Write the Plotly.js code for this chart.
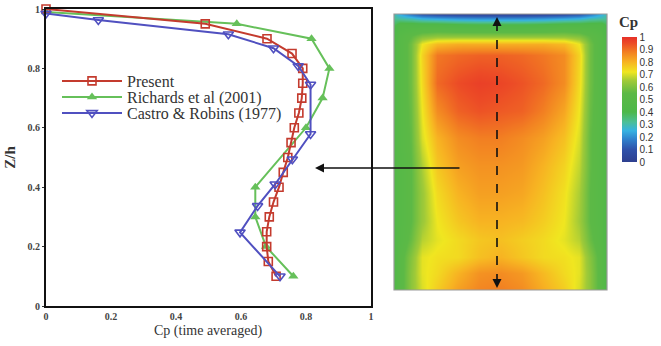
<!DOCTYPE html>
<html>
<head>
<meta charset="utf-8">
<script src="https://cdn.plot.ly/plotly-3.0.1.min.js"></script>
<style>html,body{margin:0;padding:0;background:#fff;}#chart{width:661px;height:346px;}</style>
</head>
<body>
<div id="chart"></div>
<script>
// ---- profile data (Cp vs Z/h) ----
const presentCp = [0, 0.49, 0.68, 0.757, 0.79, 0.79, 0.787, 0.778, 0.764, 0.754, 0.744, 0.73, 0.717, 0.70, 0.687, 0.679, 0.679, 0.684, 0.708];
const presentZ  = [1.0, 0.95, 0.90, 0.85, 0.80, 0.75, 0.70, 0.65, 0.60, 0.55, 0.50, 0.45, 0.40, 0.35, 0.30, 0.25, 0.20, 0.15, 0.10];
const richardsCp = [0, 0.587, 0.817, 0.872, 0.851, 0.80, 0.644, 0.644, 0.677, 0.761];
const richardsZ  = [0.99, 0.95, 0.90, 0.80, 0.70, 0.60, 0.40, 0.30, 0.20, 0.10];
const castroCp = [0, 0.161, 0.561, 0.70, 0.776, 0.814, 0.814, 0.758, 0.705, 0.651, 0.597, 0.72];
const castroZ  = [0.985, 0.963, 0.915, 0.868, 0.808, 0.746, 0.579, 0.494, 0.41, 0.337, 0.248, 0.10];
const xTicks = [0, 0.2, 0.4, 0.6, 0.8, 1];
const yTicks = [0, 0.2, 0.4, 0.6, 0.8, 1];

// ---- face contour data (Cp field on windward face) ----
const faceX = [0, 0.03, 0.08, 0.13, 0.2, 0.3, 0.4, 0.5, 0.6, 0.7, 0.8, 0.87, 0.92, 0.97, 1];
const faceY = [0, 0.06, 0.12, 0.18, 0.25, 0.35, 0.45, 0.55, 0.65, 0.75, 0.85, 0.89, 0.92, 0.96, 0.985, 1];
const faceCp = [
  [0.45,0.52,0.62,0.70,0.76,0.83,0.87,0.88,0.86,0.81,0.76,0.70,0.62,0.52,0.42],
  [0.45,0.52,0.62,0.71,0.74,0.80,0.85,0.86,0.84,0.79,0.74,0.71,0.62,0.52,0.42],
  [0.45,0.52,0.61,0.71,0.73,0.74,0.78,0.80,0.77,0.74,0.73,0.71,0.61,0.52,0.42],
  [0.45,0.50,0.57,0.67,0.71,0.74,0.77,0.78,0.76,0.74,0.71,0.67,0.57,0.50,0.42],
  [0.45,0.50,0.55,0.64,0.72,0.77,0.80,0.80,0.79,0.76,0.72,0.65,0.55,0.50,0.42],
  [0.45,0.50,0.55,0.64,0.74,0.80,0.83,0.83,0.82,0.78,0.73,0.66,0.55,0.50,0.43],
  [0.45,0.50,0.55,0.66,0.77,0.83,0.85,0.85,0.84,0.80,0.75,0.68,0.56,0.50,0.44],
  [0.45,0.50,0.56,0.70,0.80,0.86,0.88,0.88,0.86,0.83,0.78,0.70,0.56,0.50,0.44],
  [0.45,0.50,0.57,0.72,0.86,0.92,0.94,0.93,0.92,0.88,0.82,0.72,0.57,0.50,0.44],
  [0.45,0.50,0.58,0.74,0.91,0.95,0.97,0.96,0.94,0.91,0.86,0.74,0.58,0.50,0.44],
  [0.45,0.50,0.58,0.75,0.89,0.91,0.92,0.92,0.91,0.89,0.86,0.75,0.58,0.50,0.44],
  [0.45,0.50,0.58,0.72,0.79,0.81,0.81,0.81,0.81,0.81,0.79,0.72,0.58,0.50,0.44],
  [0.42,0.50,0.55,0.60,0.62,0.62,0.62,0.62,0.62,0.62,0.62,0.60,0.55,0.50,0.42],
  [0.38,0.45,0.45,0.45,0.45,0.43,0.42,0.42,0.42,0.43,0.45,0.45,0.45,0.45,0.38],
  [0.32,0.30,0.28,0.24,0.22,0.20,0.19,0.19,0.19,0.20,0.22,0.24,0.28,0.30,0.32],
  [0.30,0.24,0.16,0.10,0.07,0.05,0.04,0.04,0.04,0.05,0.07,0.10,0.16,0.24,0.30]
];

const W = 661, H = 346;
const px = v => v / W;
const py = v => (H - v) / H;
const serif = 'Liberation Serif';
const sans = 'Liberation Sans';

const cpScale = [
  [0, '#2e3f8f'], [0.1, '#2f52aa'], [0.18, '#2f80cc'], [0.25, '#36b2e2'],
  [0.32, '#4cbf96'], [0.4, '#4db849'], [0.55, '#5cb946'], [0.65, '#a0ca38'],
  [0.72, '#f0e620'], [0.8, '#f7b322'], [0.88, '#f27f22'], [0.95, '#ec4b26'], [1, '#e63028']
];

const legendBox = (yc) => ({x: px(57), y: py(yc), xanchor: 'left', yanchor: 'middle', bgcolor: 'rgba(0,0,0,0)',
  itemwidth: 60, font: {family: serif, size: 16, color: '#333'}});

const traces = [
  {x: richardsCp, y: richardsZ, name: 'Richards et al (2001)', type: 'scatter', mode: 'lines+markers',
   legend: 'legend2', cliponaxis: false,
   line: {color: '#66c05a', width: 2}, marker: {symbol: 'triangle-up', size: 9, color: '#66c05a'}},
  {x: presentCp, y: presentZ, name: 'Present', type: 'scatter', mode: 'lines+markers',
   legend: 'legend', cliponaxis: false,
   line: {color: '#c43b2e', width: 2}, marker: {symbol: 'square-open', size: 8, color: '#c43b2e', line: {width: 1.6}}},
  {x: castroCp, y: castroZ, name: 'Castro & Robins (1977)', type: 'scatter', mode: 'lines+markers',
   legend: 'legend3', cliponaxis: false,
   line: {color: '#5050c0', width: 2}, marker: {symbol: 'triangle-down-open', size: 9, color: '#5050c0', line: {width: 1.6}}},
  {type: 'heatmap', x: faceX, y: faceY, z: faceCp, xaxis: 'x2', yaxis: 'y2', zsmooth: 'best',
   zmin: 0, zmax: 1, colorscale: cpScale, showlegend: false, hoverinfo: 'skip',
   colorbar: {x: px(622), xanchor: 'left', xpad: 0, ypad: 0, y: py(99.5), yanchor: 'middle',
              len: 125, lenmode: 'pixels', thickness: 15, outlinewidth: 0,
              tick0: 0, dtick: 0.1, ticks: '', tickfont: {family: sans, size: 10, color: '#333'}}}
];

const layout = {
  width: W, height: H,
  margin: {l: 0, r: 0, t: 0, b: 0},
  paper_bgcolor: '#fff', plot_bgcolor: '#fff',
  font: {family: serif},
  showlegend: true,
  legend: legendBox(81),
  legend2: legendBox(97),
  legend3: legendBox(113),
  xaxis: {domain: [px(46), px(371)], range: [0, 1], tickvals: xTicks, ticktext: xTicks.map(String),
          showgrid: false, zeroline: false, showline: true, mirror: true, linecolor: '#111', linewidth: 2,
          ticks: '', automargin: false,
          tickfont: {family: serif, size: 10, color: '#444', weight: 'bold'}},
  yaxis: {domain: [py(306), py(9)], range: [0, 1], tickvals: yTicks, ticktext: yTicks.map(String),
          showgrid: false, zeroline: false, showline: true, mirror: true, linecolor: '#111', linewidth: 2,
          ticks: 'outside', ticklen: 2, tickcolor: '#333', automargin: false,
          tickfont: {family: serif, size: 10, color: '#444', weight: 'bold'},
          title: {text: 'Z/h', font: {family: serif, size: 15, color: '#333', weight: 'bold'}, standoff: 8}},
  xaxis2: {domain: [px(394), px(607)], range: [0, 1], anchor: 'y2', visible: false, fixedrange: true},
  yaxis2: {domain: [py(290), py(14)], range: [0, 1], anchor: 'x2', visible: false, fixedrange: true},
  shapes: [
    {type: 'rect', xref: 'paper', yref: 'paper', x0: px(394), x1: px(607), y0: py(290), y1: py(14),
     line: {color: '#9a9a9a', width: 1.2}},
    {type: 'line', xref: 'paper', yref: 'paper', x0: px(497), x1: px(497), y0: py(283), y1: py(22),
     line: {color: '#111', width: 1.6, dash: 'dash'}}
  ],
  annotations: [
    {xref: 'paper', yref: 'paper', x: px(208), y: py(331), xanchor: 'center', yanchor: 'middle', showarrow: false,
     text: 'Cp (time averaged)', font: {family: serif, size: 14, color: '#333'}},
    {xref: 'paper', yref: 'paper', x: px(315), y: py(168), ax: 146, ay: 0, text: '', showarrow: true,
     arrowhead: 2, arrowsize: 1.2, arrowwidth: 1.5, arrowcolor: '#111'},
    {xref: 'paper', yref: 'paper', x: px(497), y: py(17), ax: 0, ay: 8, text: '', showarrow: true,
     arrowhead: 2, arrowsize: 1.2, arrowwidth: 1.5, arrowcolor: '#111'},
    {xref: 'paper', yref: 'paper', x: px(497), y: py(288), ax: 0, ay: -8, text: '', showarrow: true,
     arrowhead: 2, arrowsize: 1.2, arrowwidth: 1.5, arrowcolor: '#111'},
    {xref: 'paper', yref: 'paper', x: px(628), y: py(22), xanchor: 'center', yanchor: 'middle', showarrow: false,
     text: '<b>Cp</b>', font: {family: serif, size: 15, color: '#333'}}
  ]
};

Plotly.newPlot('chart', traces, layout, {displayModeBar: false, staticPlot: true});
</script>
</body>
</html>
